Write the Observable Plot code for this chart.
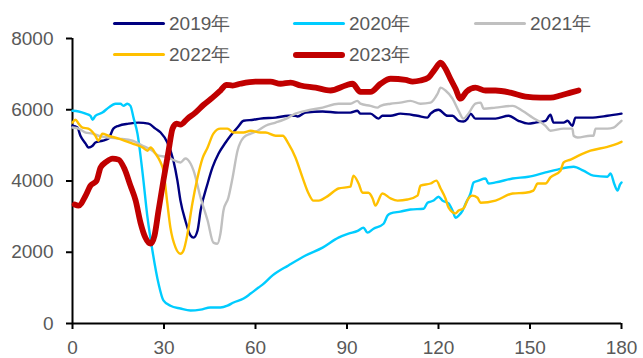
<!DOCTYPE html>
<html>
<head>
<meta charset="utf-8">
<script src="https://cdn.jsdelivr.net/npm/d3@7"></script>
<script src="https://cdn.jsdelivr.net/npm/@observablehq/plot@0.6"></script>
<style>
  html, body { margin: 0; padding: 0; background: #fff; }
  #wrap { position: relative; width: 643px; height: 358px; font-family: "Liberation Sans", Arial, sans-serif; }
  #legend { position: absolute; left: 113px; top: 8px; display: grid; grid-template-columns: 180px 181px 160px; grid-auto-rows: 31px; }
  .item { display: flex; align-items: center; color: #595959; font-size: 19px; }
  .sw { display: inline-block; width: 52px; margin-right: 4px; border-radius: 4px; }
</style>
</head>
<body>
<div id="wrap"><div id="legend"></div></div>
<script>
// Series names, colours and line weights
const years = ["2019年", "2020年", "2021年", "2022年", "2023年"];
const colors = ["#000080", "#00CCFF", "#C0C0C0", "#FFC000", "#C00000"];
const widths = [2.4, 2.4, 2.4, 2.4, 5.8];

// Axis ticks
const xTicks = [0, 30, 60, 90, 120, 150, 180];
const yTicks = [0, 2000, 4000, 6000, 8000];

// [day, value] per year
const s2019 = [[0,5550],[1.6,5500],[2.6,5270],[4.3,5050],[5.2,4940],[6.6,4990],[7.5,5080],[9.8,5130],[11.8,5190],[13.4,5470],[15.1,5550],[18.4,5610],[21.6,5640],[24.9,5610],[27.2,5470],[28.9,5360],[31.1,5080],[33.1,4570],[34.4,4010],[35.4,3450],[37,2890],[38.7,2470],[39.7,2410],[41,2610],[42,3170],[44.3,3930],[45.9,4380],[47.9,4770],[50.2,5080],[51.8,5270],[54.1,5500],[56.1,5690],[59.3,5720],[61.6,5750],[66.6,5780],[70.8,5830],[73.1,5830],[73.8,5810],[76.4,5920],[82,5950],[87.2,5920],[91.1,5920],[93.4,5970],[94.4,5890],[97.7,5890],[100.3,5750],[101.6,5830],[104.3,5830],[107.5,5890],[113.1,5830],[116.4,5780],[117.4,5890],[120,6000],[123,5830],[124.6,5830],[126.6,5690],[128.2,5670],[129.5,5750],[130.5,5890],[132.1,5750],[138.7,5750],[143,5830],[146.2,5690],[149.5,5610],[151.8,5640],[155.1,5690],[156.7,5860],[157.7,5640],[161,5640],[162.3,5690],[163.9,5550],[164.9,5780],[169.8,5780],[175.4,5830],[180,5890]];

const s2020 = [[0,5970],[2,5950],[4.3,5890],[5.9,5830],[6.6,5720],[7.5,5830],[9.8,5920],[11.8,6060],[14.1,6170],[15.7,6170],[16.7,6110],[18,6170],[19,6110],[20,5780],[21.3,5330],[23,4210],[24.6,2970],[26.2,2050],[28.2,1120],[29.8,650],[32.1,500],[35.4,420],[38.7,365],[42,390],[45.2,450],[48.5,450],[50.8,500],[52.8,590],[56.1,700],[58.4,840],[61,1010],[62.3,1090],[65.6,1350],[70.8,1630],[76.4,1910],[82,2130],[87.2,2410],[90.5,2520],[93.5,2600],[95.4,2690],[96.7,2550],[98.7,2660],[102,2800],[103.3,3030],[104.3,3090],[107.5,3140],[110.8,3200],[115.1,3220],[116.4,3390],[118.4,3450],[120,3560],[121.3,3450],[123.3,3370],[124.6,3170],[125.6,2970],[126.6,3030],[127.9,3170],[128.9,3370],[130.5,3650],[131.5,3960],[133.1,4010],[135.4,4070],[136.4,3930],[138.7,3960],[144.3,4070],[149.5,4120],[155.1,4240],[159,4320],[164.3,4400],[167.5,4290],[170.8,4150],[175.4,4120],[176.4,4210],[177.7,3900],[178.7,3730],[179.5,3900],[180,3960]];

const s2021 = [[0,5500],[2,5470],[4.3,5360],[6.6,5330],[8.5,5270],[11.8,5220],[15.1,5190],[19.7,5130],[23,4990],[26.2,4850],[28.2,4710],[30.5,4680],[32.1,4630],[35.4,4520],[37,4630],[38.7,4490],[39.7,4290],[42,3530],[44.3,2890],[46.2,2270],[47.5,2240],[48.5,2520],[49.5,3170],[51.1,3530],[52.5,4100],[54.1,4850],[56.1,5220],[58.4,5330],[60.7,5410],[63.3,5550],[66.6,5640],[70.8,5780],[73.1,5890],[76.4,5970],[82,6060],[87.2,6170],[91.1,6170],[93.4,6250],[94.4,6170],[97.7,6110],[100,6060],[101,6110],[104.3,6170],[107.5,6200],[110.8,6250],[114.1,6170],[117.4,6200],[119.7,6450],[120.7,6620],[122.3,6540],[124.6,6310],[126.6,5970],[128.2,5750],[129.8,5890],[132.1,6170],[133.8,6200],[134.8,6030],[138.7,6060],[144.3,6110],[147.5,5970],[150.8,5780],[155.1,5550],[156.7,5410],[161,5470],[163.9,5470],[164.3,5270],[165.6,5220],[169.8,5270],[170.8,5270],[171.5,5470],[175.4,5470],[177.4,5500],[179,5610],[180,5690]];

const s2022 = [[0,5640],[1,5720],[2,5610],[3.3,5500],[5.2,5470],[7.5,5270],[8.5,5130],[9.8,5330],[11.8,5270],[15.1,5190],[19.7,5050],[23,4940],[24.6,4850],[25.6,4940],[27.2,4770],[28.9,4520],[29.8,4290],[31.1,3370],[32.1,2690],[33.8,2130],[35.4,1960],[36.4,2050],[37.7,2520],[39.3,3370],[41,4100],[42.6,4630],[44.3,4940],[46.2,5330],[48.5,5470],[50.8,5470],[52.8,5360],[56.1,5360],[58.4,5410],[61.6,5360],[63.3,5360],[66.6,5270],[68.9,5270],[70.8,5050],[73.1,4660],[75.4,4100],[77.4,3650],[79,3450],[80.7,3450],[83.9,3590],[87.2,3790],[91.1,3840],[92.1,4150],[93.8,3930],[95.1,3670],[97,3670],[98.4,3510],[99.3,3310],[101.6,3650],[104.3,3510],[106.6,3450],[109.8,3480],[113.1,3590],[114.1,3870],[117.4,3930],[119.3,4010],[120.7,3790],[122.3,3510],[123.3,3250],[125.6,3090],[126.6,3170],[128.2,3230],[129.8,3510],[131.1,3590],[132.8,3530],[133.8,3390],[138.7,3450],[144.3,3650],[148.5,3670],[151.1,3730],[152.5,3930],[155.1,3930],[156.7,4100],[160,4290],[161,4520],[163.3,4600],[166.6,4740],[169.8,4850],[175.4,4960],[178.7,5050],[180,5100]];

const s2023 = [[0.7,3340],[2,3310],[4.3,3590],[5.9,3870],[7.9,4010],[9.2,4380],[11.1,4540],[13.1,4630],[15.1,4600],[17,4350],[19,3870],[20.7,3450],[22.3,2830],[23.9,2410],[25.6,2240],[26.9,2470],[28.2,3170],[29.8,4010],[31.5,4850],[32.8,5470],[34.1,5610],[35.4,5580],[37.7,5750],[40.3,5920],[43,6140],[45.9,6340],[48.5,6540],[50.5,6700],[52.5,6680],[55,6730],[60,6790],[64.9,6790],[68.2,6730],[71.5,6760],[74.8,6680],[79.7,6620],[84.6,6540],[89.5,6680],[91.8,6730],[94.4,6500],[97.7,6500],[101,6730],[104.3,6870],[109.2,6840],[111.5,6790],[114.1,6820],[116.7,6900],[118.7,7120],[120.7,7320],[122.3,7150],[123.9,6870],[125.6,6590],[127.2,6310],[129.2,6510],[132.1,6620],[135.4,6540],[138.7,6540],[143.6,6480],[148.5,6370],[153.4,6340],[156.7,6340],[160,6400],[163.3,6480],[165.9,6540]];

const seriesData = [s2019, s2020, s2021, s2022, s2023];

const rows = seriesData.map((s, i) => s.map(([day, value]) => ({year: years[i], day, value})));

const chart = Plot.plot({
  width: 643,
  height: 358,
  marginLeft: 72,
  marginRight: 22,
  marginTop: 38,
  marginBottom: 35,
  style: {fontFamily: "'Liberation Sans', Arial, sans-serif", fontSize: "19px", background: "transparent", overflow: "visible"},
  x: {domain: [0, 180]},
  y: {domain: [0, 8000]},
  marks: [
    Plot.axisX({ticks: xTicks, tickSize: 6, tickPadding: 11, tickFormat: "d", stroke: "#000", strokeWidth: 2, fill: "#595959", label: null}),
    Plot.axisY({ticks: yTicks, tickSize: 6, tickPadding: 13, tickFormat: "d", stroke: "#000", strokeWidth: 2, fill: "#595959", label: null}),
    Plot.ruleX([0], {stroke: "#000", strokeWidth: 2}),
    Plot.ruleY([0], {stroke: "#000", strokeWidth: 2}),
    ...rows.map((r, i) => Plot.line(r, {
      x: "day", y: "value",
      stroke: colors[i], strokeWidth: widths[i],
      curve: "monotone-x", strokeLinejoin: "round", strokeLinecap: "round"
    }))
  ]
});

const wrap = document.getElementById("wrap");
wrap.insertBefore(chart, wrap.firstChild);

// Legend in two rows over the top of the plot
const legend = document.getElementById("legend");
years.forEach((y, i) => {
  const item = document.createElement("div");
  item.className = "item";
  const sw = document.createElement("span");
  sw.className = "sw";
  sw.style.height = (i === 4 ? 6 : 3) + "px";
  sw.style.background = colors[i];
  const t = document.createElement("span");
  t.textContent = y;
  item.appendChild(sw);
  item.appendChild(t);
  legend.appendChild(item);
});
</script>
</body>
</html>
